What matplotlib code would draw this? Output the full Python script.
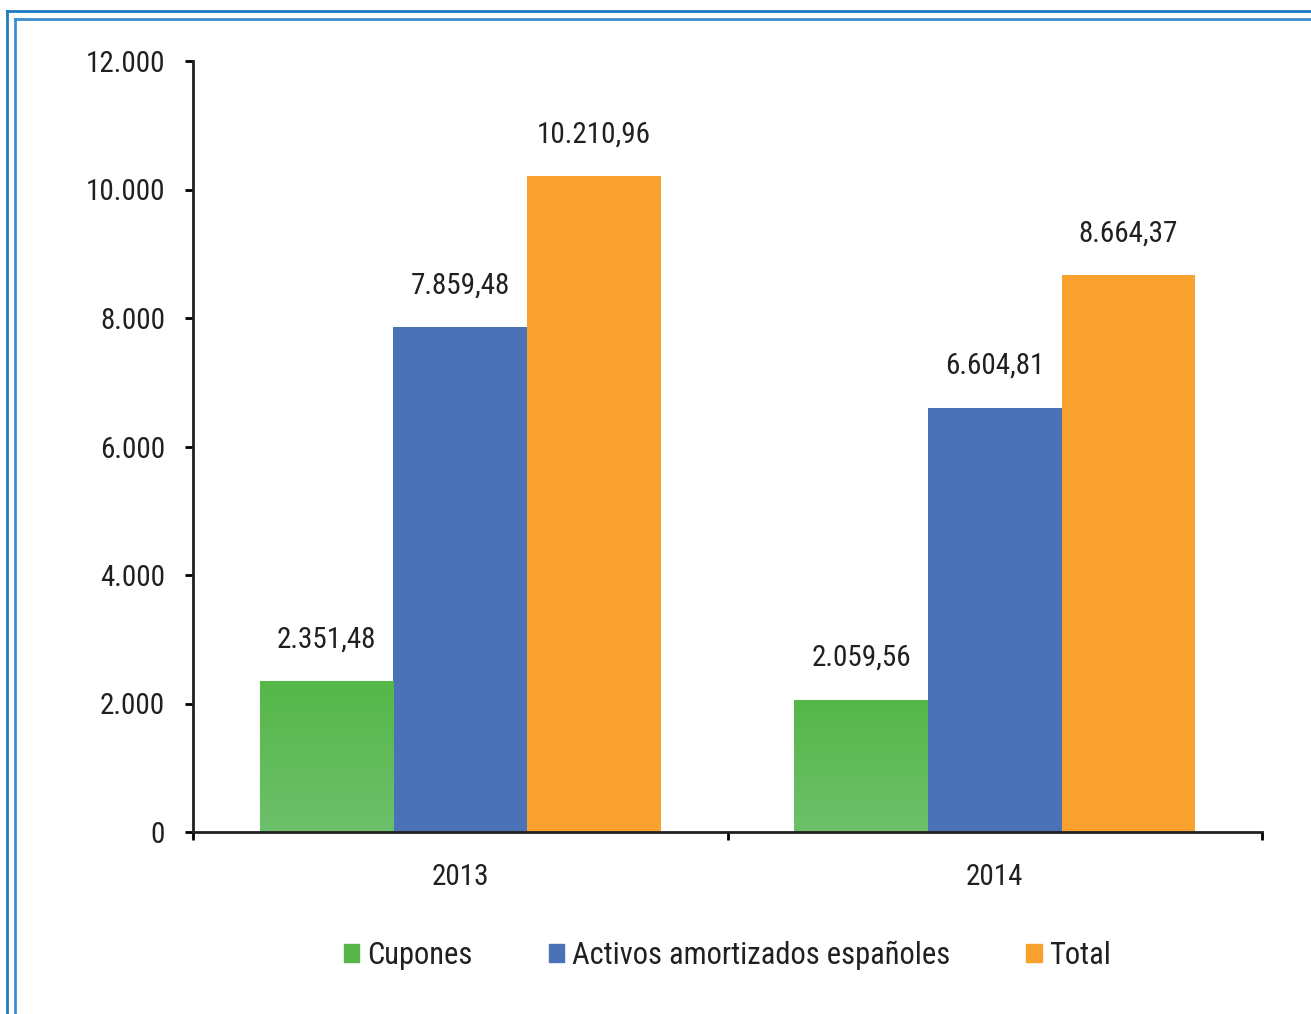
import numpy as np
import matplotlib.pyplot as plt
from matplotlib.patches import Rectangle
from matplotlib.lines import Line2D
from matplotlib.colors import LinearSegmentedColormap

plt.rcParams['font.family'] = ['Roboto Condensed', 'DejaVu Sans']

years = ['2013', '2014']
series = ['Cupones', 'Activos amortizados españoles', 'Total']
cupones = [2351.48, 2059.56]
activos = [7859.48, 6604.81]
total = [10210.96, 8664.37]
colors = ['#55b748', '#4b72b6', '#f9a12e']
yticks = [0, 2000, 4000, 6000, 8000, 10000, 12000]


def fmt_es(v, dec=2):
    s = f"{v:,.{dec}f}"
    return s.replace(',', 'X').replace('.', ',').replace('X', '.')


fig = plt.figure(figsize=(13.11, 10.14), dpi=100)

# double blue frame
for (x0, y0, c) in [(7 / 1311, 11 / 1014, '#1f7bbf'), (15 / 1311, 19 / 1014, '#3a8fd0')]:
    fig.add_artist(Line2D([x0, 1.01], [1 - y0, 1 - y0], color=c, lw=2, transform=fig.transFigure))
    fig.add_artist(Line2D([x0, x0], [1 - y0, -0.01], color=c, lw=2, transform=fig.transFigure))

ax = fig.add_axes([193 / 1311, 182 / 1014, 1069 / 1311, 771 / 1014])
x = np.arange(len(years))
w = 0.25
vals = [cupones, activos, total]
for i, (v, c) in enumerate(zip(vals, colors)):
    bars = ax.bar(x + (i - 1) * w, v, w, color=c, zorder=2)
    if i == 0:
        # green bars fade lighter toward the base
        grad = np.linspace(0, 1, 256).reshape(-1, 1)
        cm = LinearSegmentedColormap.from_list('g', ['#6dc06b', '#55b748'])
        for b in bars:
            bx, by, bw, bh = b.get_x(), b.get_y(), b.get_width(), b.get_height()
            im = ax.imshow(grad, cmap=cm, aspect='auto', origin='lower',
                           extent=[bx, bx + bw, by, by + bh], zorder=2.5)
            im.set_clip_path(b)
    for xi, vi in zip(x + (i - 1) * w, v):
        ax.annotate(fmt_es(vi), (xi, vi), xytext=(0, 20), textcoords='offset points',
                    ha='center', va='bottom', fontsize=21, color='#231f20')

ax.set_xlim(-0.5, 1.5)
ax.set_ylim(0, 12000)
ax.set_yticks(yticks)
ax.set_yticklabels([fmt_es(t, 0) for t in yticks])
ax.set_xticks([-0.5, 0.5, 1.5])
ax.set_xticklabels([])
ax.set_xticks(x, minor=True)
ax.set_xticklabels(years, minor=True)
ax.tick_params(axis='x', which='minor', length=0, pad=22, labelsize=21, labelcolor='#231f20')
ax.tick_params(axis='x', which='major', length=6, width=2, direction='out')
ax.tick_params(axis='y', length=6, width=2, pad=14, labelsize=21, labelcolor='#231f20')
for s in ['top', 'right']:
    ax.spines[s].set_visible(False)
for s in ['left', 'bottom']:
    ax.spines[s].set_linewidth(2)
    ax.spines[s].set_color('#231f20')
    ax.spines[s].set_zorder(3)

handles = [Rectangle((0, 0), 1, 1, color=c) for c in colors]
ax.legend(handles, series, loc='center', bbox_to_anchor=(0.5, -0.16), ncol=3,
          frameon=False, fontsize=22, handlelength=0.5, handleheight=0.5,
          handletextpad=0.25, columnspacing=2.5, labelcolor='#231f20')

fig.savefig('out.png', dpi=100, facecolor='white')
